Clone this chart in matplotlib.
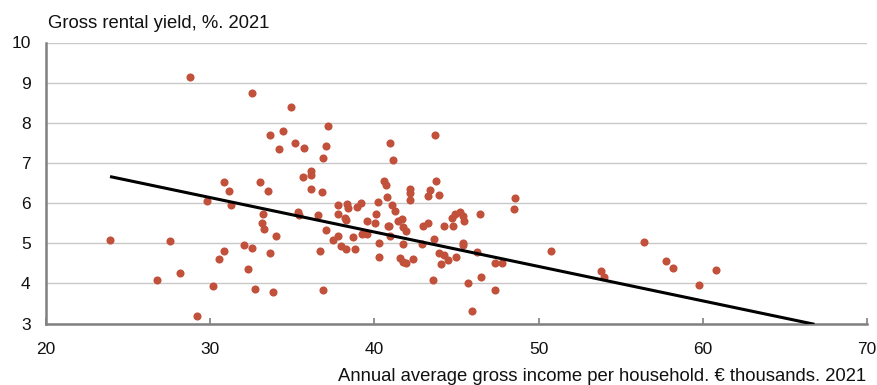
import matplotlib
matplotlib.use("Agg")
import matplotlib.pyplot as plt

plt.rcParams["font.family"] = ["Liberation Sans", "DejaVu Sans"]

# Annual average gross income per household (EUR thousands), 2021
income = [
    28.75, 32.53, 34.92, 37.20, 33.66, 34.43, 35.16, 34.19, 35.69, 37.05,
    36.87, 35.63, 36.12, 36.12, 36.12, 36.79, 30.86, 31.13, 33.03, 33.54,
    29.81, 31.27, 33.23, 33.13, 33.28, 34.03, 35.34, 35.38, 36.54, 37.05,
    23.92, 27.57, 26.76, 28.14, 29.22, 30.17, 30.56, 30.82, 32.08, 32.57,
    32.28, 33.64, 32.71, 33.81, 36.67, 36.85, 37.50, 37.80, 37.95, 38.29,
    38.84, 38.70, 37.76, 37.76, 38.23, 38.25, 38.35, 38.37, 38.92, 39.16,
    39.57, 40.02, 40.10, 40.24, 39.27, 39.57, 40.28, 40.26, 40.56, 40.71,
    40.95, 41.13, 40.77, 41.07, 41.25, 40.81, 40.91, 41.42, 41.66, 40.95,
    41.77, 41.93, 41.72, 41.56, 41.76, 41.92, 42.37, 42.17, 42.17, 42.17,
    42.98, 43.27, 42.90, 43.25, 43.39, 43.95, 43.77, 43.69, 43.65, 43.57,
    44.24, 43.95, 44.24, 44.50, 44.95, 44.07, 44.74, 44.91, 45.23, 45.40,
    45.46, 44.77, 45.38, 45.38, 45.72, 45.96, 46.23, 46.45, 46.47, 47.32,
    47.77, 47.32, 48.48, 48.58, 50.75, 53.78, 53.96, 56.44, 57.76, 58.19,
    59.77, 60.82,
]

# Gross rental yield (%), 2021
rental_yield = [
    9.14, 8.73, 8.39, 7.91, 7.69, 7.80, 7.49, 7.35, 7.36, 7.41,
    7.12, 6.64, 6.80, 6.69, 6.35, 6.27, 6.52, 6.30, 6.53, 6.31,
    6.04, 5.94, 5.72, 5.50, 5.36, 5.19, 5.78, 5.70, 5.70, 5.34,
    5.07, 5.05, 4.09, 4.27, 3.19, 3.94, 4.60, 4.81, 4.96, 4.88,
    4.36, 4.75, 3.85, 3.79, 4.81, 3.83, 5.08, 5.18, 4.92, 4.86,
    4.86, 5.15, 5.94, 5.72, 5.63, 5.58, 5.98, 5.88, 5.89, 6.01,
    5.55, 5.50, 5.73, 6.03, 5.22, 5.22, 5.01, 4.65, 6.55, 6.44,
    7.50, 7.08, 6.14, 5.94, 5.81, 5.43, 5.43, 5.55, 5.60, 5.17,
    5.40, 5.31, 4.97, 4.64, 4.54, 4.50, 4.60, 6.34, 6.24, 6.08,
    5.43, 5.50, 4.99, 6.18, 6.33, 6.19, 6.55, 7.69, 5.10, 4.08,
    5.44, 4.76, 4.70, 4.58, 4.66, 4.49, 5.63, 5.74, 5.78, 5.68,
    5.56, 5.43, 5.01, 4.96, 4.02, 3.31, 4.77, 5.74, 4.17, 4.50,
    4.50, 3.83, 5.86, 6.13, 4.81, 4.30, 4.17, 5.02, 4.56, 4.39,
    3.97, 4.33,
]

# Linear trend line end points
trend_x = [23.9, 66.8]
trend_y = [6.66, 2.98]

x_ticks = [20, 30, 40, 50, 60, 70]
y_ticks = [3, 4, 5, 6, 7, 8, 9, 10]

fig = plt.figure(figsize=(8.78, 3.85), dpi=100)
ax = fig.add_axes([46 / 878, 1 - 323.5 / 385, (867 - 46) / 878, (323.5 - 42.5) / 385])

ax.scatter(income, rental_yield, s=34, color="#c2513c", linewidths=0, zorder=3)
ax.plot(trend_x, trend_y, color="black", linewidth=2.2, zorder=4, solid_capstyle="butt")

ax.set_xlim(20, 70)
ax.set_ylim(3, 10)
ax.set_xticks(x_ticks)
ax.set_yticks(y_ticks)

ax.grid(axis="y", color="#c8c8c8", linewidth=1.0, zorder=0)
ax.set_axisbelow(True)

for side in ("top", "right"):
    ax.spines[side].set_visible(False)
for side in ("left", "bottom"):
    ax.spines[side].set_color("#808080")
    ax.spines[side].set_linewidth(1.8)

ax.tick_params(axis="x", direction="in", length=4, width=1.2, color="#808080",
               labelsize=12.5, pad=13.5, labelcolor="#111111")
ax.tick_params(axis="y", length=0, labelsize=12.5, pad=11, labelcolor="#111111")

fig.text(48 / 878, 1 - 28 / 385, "Gross rental yield, %. 2021",
         fontsize=13.3, color="#111111", ha="left", va="baseline")
fig.text(866 / 878, 1 - 381 / 385,
         "Annual average gross income per household. \u20ac thousands. 2021",
         fontsize=13.3, color="#111111", ha="right", va="baseline")

fig.savefig("out.png", dpi=100)
